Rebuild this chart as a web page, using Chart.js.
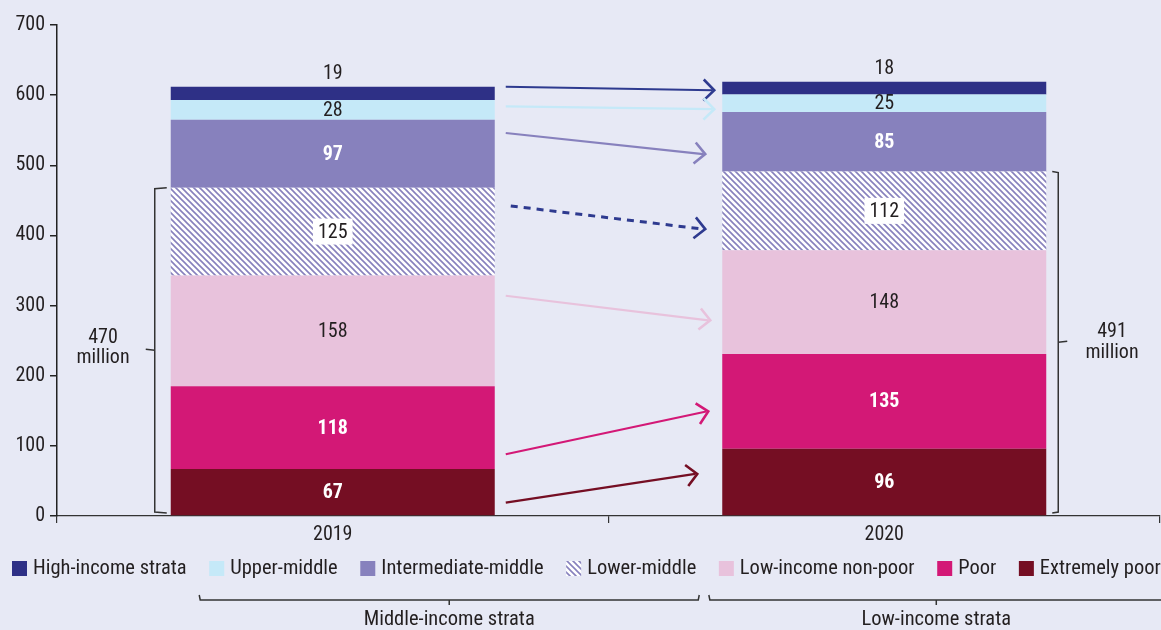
<!DOCTYPE html>
<html>
<head>
<meta charset="utf-8">
<title>Income strata 2019-2020</title>
<script src="https://cdn.jsdelivr.net/npm/chart.js@4.4.1/dist/chart.umd.min.js"></script>
<style>
  html, body { margin: 0; padding: 0; background: #e7e9f5; }
  canvas { display: block; }
</style>
</head>
<body>
<canvas id="strata" width="1161" height="630"></canvas>
<script>
// population by income stratum, millions
const years = ['2019', '2020'];
const highIncome = [19, 18];
const upperMiddle = [28, 25];
const intermediateMiddle = [97, 85];
const lowerMiddle = [125, 112];
const lowIncomeNonPoor = [158, 148];
const poor = [118, 135];
const extremelyPoor = [67, 96];
const yTicks = [0, 100, 200, 300, 400, 500, 600, 700];
const lowTotals = ['470', '491'];

// transition arrows, top to bottom: value where each leaves 2019 and lands at 2020
const arrowFrom = [612, 584, 546, 442, 314, 88, 19];
const arrowTo = [607, 580, 516, 409, 279, 149, 60];
const arrowColors = ['#2e3a8f', '#c5e9f8', '#8781bd', '#2e3a8f', '#e8c2dc', '#d31876', '#750e23'];
const arrowDashed = [false, false, false, true, false, false, false];
const arrowTipGap = [8, 8, 17, 17, 12, 14, 25];

const FONT = "'Roboto Condensed', Roboto, sans-serif";
const INK = '#231f20';
Chart.defaults.font.family = FONT;
Chart.defaults.color = INK;

function hatch(color) {
  const c = document.createElement('canvas');
  c.width = 6; c.height = 6;
  const g = c.getContext('2d');
  g.fillStyle = '#ffffff';
  g.fillRect(0, 0, 6, 6);
  g.strokeStyle = color;
  g.lineWidth = 1.6;
  g.beginPath();
  g.moveTo(-1, -1); g.lineTo(7, 7);
  g.moveTo(-1, 5); g.lineTo(1, 7);
  g.moveTo(5, -1); g.lineTo(7, 1);
  g.stroke();
  return g.createPattern(c, 'repeat');
}

// stacked bottom-up; label* fields steer the value labels
const datasets = [
  { label: 'Extremely poor', data: extremelyPoor, backgroundColor: '#750e23', labelColor: '#fff', labelBold: true, group: 'Low-income strata' },
  { label: 'Poor', data: poor, backgroundColor: '#d31876', labelColor: '#fff', labelBold: true, group: 'Low-income strata' },
  { label: 'Low-income non-poor', data: lowIncomeNonPoor, backgroundColor: '#e8c2dc', labelColor: INK, group: 'Low-income strata' },
  { label: 'Lower-middle', data: lowerMiddle, backgroundColor: hatch('#8781bd'), labelColor: INK, labelBox: true, group: 'Middle-income strata' },
  { label: 'Intermediate-middle', data: intermediateMiddle, backgroundColor: '#8781bd', labelColor: '#fff', labelBold: true, group: 'Middle-income strata' },
  { label: 'Upper-middle', data: upperMiddle, backgroundColor: '#c5e9f8', labelColor: INK, group: 'Middle-income strata' },
  { label: 'High-income strata', data: highIncome, backgroundColor: '#2e3086', labelColor: INK, labelAbove: true }
];

function drawArrow(ctx, x1, y1, x2, y2, color, dashed) {
  ctx.save();
  ctx.strokeStyle = color;
  ctx.lineWidth = dashed ? 3 : 2.2;
  ctx.setLineDash(dashed ? [7, 6] : []);
  ctx.beginPath();
  ctx.moveTo(x1, y1);
  ctx.lineTo(x2 - 2, y2);
  ctx.stroke();
  ctx.setLineDash([]);
  const a = Math.atan2(y2 - y1, x2 - x1);
  const len = 15, spread = 0.78;
  ctx.lineWidth = 2.6;
  ctx.beginPath();
  ctx.moveTo(x2 - len * Math.cos(a - spread), y2 - len * Math.sin(a - spread));
  ctx.lineTo(x2, y2);
  ctx.lineTo(x2 - len * Math.cos(a + spread), y2 - len * Math.sin(a + spread));
  ctx.stroke();
  ctx.restore();
}

// vertical bracket; dir = -1 opens right (tick points left), +1 opens left
function sideBracket(ctx, x, top, bottom, dir) {
  const mid = (top + bottom) / 2;
  const hook = dir < 0 ? 12 : 6;
  ctx.save();
  ctx.strokeStyle = '#333';
  ctx.lineWidth = 1.5;
  ctx.beginPath();
  ctx.moveTo(x - dir * hook, top);
  ctx.lineTo(x, top + 1);
  ctx.lineTo(x, bottom - 1);
  ctx.lineTo(x - dir * hook, bottom);
  ctx.moveTo(x, mid);
  ctx.lineTo(x + dir * 9, mid - 1);
  ctx.stroke();
  ctx.restore();
}

const annotations = {
  id: 'annotations',
  afterDatasetsDraw(chart) {
    const ctx = chart.ctx;
    const yScale = chart.scales.y;

    // arrows between the bars
    const m = chart.getDatasetMeta(0);
    const b0 = m.data[0], b1 = m.data[1];
    const right0 = b0.x + b0.width / 2;
    const left1 = b1.x - b1.width / 2;
    arrowFrom.forEach((v, i) => {
      const sx = right0 + (arrowDashed[i] ? 16 : 11);
      drawArrow(ctx, sx, yScale.getPixelForValue(v), left1 - arrowTipGap[i],
        yScale.getPixelForValue(arrowTo[i]), arrowColors[i], arrowDashed[i]);
    });

    // value labels
    ctx.save();
    ctx.textAlign = 'center';
    ctx.textBaseline = 'middle';
    chart.data.datasets.forEach((ds, i) => {
      chart.getDatasetMeta(i).data.forEach((bar, j) => {
        const p = bar.getProps(['x', 'y', 'base'], true);
        const text = String(ds.data[j]);
        const cy = ds.labelAbove ? p.y - 14 : (p.y + p.base) / 2;
        ctx.font = (ds.labelBold ? 'bold ' : '') + '20px ' + FONT;
        if (ds.labelBox) {
          const w = ctx.measureText(text).width + 10;
          ctx.fillStyle = '#ffffff';
          ctx.fillRect(p.x - w / 2, cy - 13, w, 26);
        }
        ctx.fillStyle = ds.labelColor;
        ctx.fillText(text, p.x, cy + 1);
      });
    });
    ctx.restore();

    // low-income + lower-middle brackets
    const lm = chart.getDatasetMeta(3).data;
    const zero = yScale.getPixelForValue(0) - 3;
    sideBracket(ctx, right0 - b0.width - 16, lm[0].y, zero, -1);
    sideBracket(ctx, b1.x + b1.width / 2 + 12, lm[1].y, zero, 1);
    ctx.save();
    ctx.fillStyle = INK;
    ctx.font = '20px ' + FONT;
    ctx.textAlign = 'center';
    ctx.textBaseline = 'middle';
    const midL = (lm[0].y + zero) / 2, midR = (lm[1].y + zero) / 2;
    ctx.fillText(lowTotals[0], 103, midL - 12);
    ctx.fillText('million', 103, midL + 8);
    ctx.fillText(lowTotals[1], 1112, midR - 10);
    ctx.fillText('million', 1112, midR + 11);
    ctx.restore();
  },
  afterDraw(chart) {
    const ctx = chart.ctx;
    ctx.save();
    ctx.font = '20.5px ' + FONT;
    ctx.textAlign = 'left';
    ctx.textBaseline = 'middle';
    const cy = 569;
    let x = 12;
    const spans = {};
    [...chart.data.datasets].reverse().forEach(ds => {
      ctx.fillStyle = ds.backgroundColor;
      ctx.fillRect(x, cy - 8, 15, 15);
      const tx = x + 21;
      ctx.fillStyle = INK;
      ctx.fillText(ds.label, tx, cy);
      const end = tx + ctx.measureText(ds.label).width;
      if (ds.group) {
        const s = spans[ds.group] || (spans[ds.group] = { left: x - 10 });
        s.right = end + 3;
      }
      x = end + 22.6;
    });

    // group brackets under the legend
    ctx.strokeStyle = '#333';
    ctx.lineWidth = 1.5;
    ctx.textAlign = 'center';
    Object.keys(spans).forEach(name => {
      const s = spans[name];
      const c = (s.left + s.right) / 2;
      ctx.beginPath();
      ctx.moveTo(s.left, 595);
      ctx.lineTo(s.left + 1, 600);
      ctx.lineTo(s.right - 1, 600);
      ctx.lineTo(s.right, 595);
      ctx.moveTo(c, 600);
      ctx.lineTo(c, 605);
      ctx.stroke();
      ctx.fillText(name, c, 620);
    });
    ctx.restore();
  }
};

new Chart(document.getElementById('strata'), {
  type: 'bar',
  data: { labels: years, datasets },
  options: {
    responsive: false,
    animation: false,
    layout: { padding: { top: 25, right: 1, left: 0, bottom: 0 } },
    datasets: { bar: { categoryPercentage: 1, barPercentage: 0.5875, borderWidth: 0 } },
    plugins: { legend: { display: false }, tooltip: { enabled: false } },
    scales: {
      x: {
        stacked: true,
        grid: { offset: true, drawOnChartArea: false, drawTicks: true, tickLength: 7, color: '#333', lineWidth: 1.2 },
        border: { color: '#333', width: 1.2 },
        ticks: { font: { size: 20 }, color: INK, padding: 0 },
        afterFit: s => { s.height = 114; }
      },
      y: {
        stacked: true,
        min: 0,
        max: 700,
        afterBuildTicks: s => { s.ticks = yTicks.map(v => ({ value: v })); },
        grid: { drawOnChartArea: false, drawTicks: true, tickLength: 7, color: '#222', lineWidth: 1.5 },
        border: { color: '#222', width: 1.5 },
        ticks: { font: { size: 20 }, color: INK, padding: 5 },
        afterFit: s => { s.width = 57; }
      }
    }
  },
  plugins: [annotations]
});
</script>
</body>
</html>
